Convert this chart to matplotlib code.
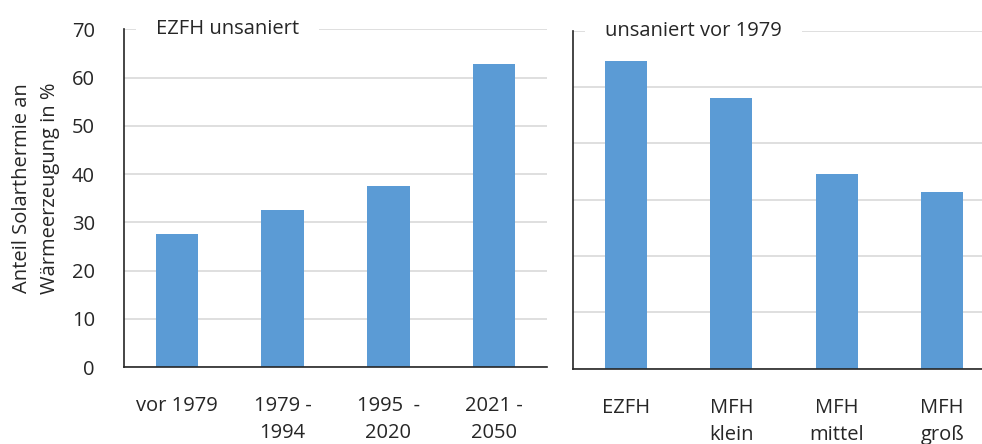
import matplotlib
matplotlib.use("Agg")
import matplotlib.pyplot as plt

plt.rcParams['font.family'] = ['Open Sans', 'DejaVu Sans']

left_title = "EZFH unsaniert"
left_cats = ["vor 1979", "1979 -\n1994", "1995  -\n2020", "2021 -\n2050"]
left_vals = [27.6, 32.6, 37.5, 62.8]

right_title = "unsaniert vor 1979"
right_cats = ["EZFH", "MFH\nklein", "MFH\nmittel", "MFH\ngroß"]
right_vals = [55.2, 48.0, 34.5, 31.3]

ylabel = "Anteil Solarthermie an\nWärmeerzeugung in %"

W, H = 982, 444
BAR = "#5B9BD5"
GRID = "#D9D9D9"
TXT = "#262626"
FS = 14.5

fig = plt.figure(figsize=(W / 100, H / 100), dpi=100)


def px_axes(x0, y_top, x1, y_bot):
    return fig.add_axes([x0 / W, (H - y_bot) / H, (x1 - x0) / W, (y_bot - y_top) / H])


def style(ax, ymax, show_labels):
    ax.set_ylim(0, ymax)
    ax.set_xlim(-0.5, 3.5)
    ax.set_yticks(range(0, ymax + 1, 10))
    ax.yaxis.grid(True, color=GRID, linewidth=1.2, zorder=0)
    ax.set_axisbelow(True)
    for s in ["top", "right"]:
        ax.spines[s].set_visible(False)
    for s in ["left", "bottom"]:
        ax.spines[s].set_color(TXT)
        ax.spines[s].set_linewidth(1.2)
        ax.spines[s].set_zorder(5)
    ax.tick_params(axis="both", length=0, colors=TXT, labelsize=FS)
    ax.tick_params(axis="y", pad=21)
    ax.tick_params(axis="x", pad=21)
    if not show_labels:
        ax.set_yticklabels([])
    for lab in ax.get_xticklabels():
        lab.set_linespacing(1.45)


axL = px_axes(124, 29.5, 547, 367)
xs = range(len(left_cats))
axL.bar(xs, left_vals, width=0.4, color=BAR, zorder=3)
axL.set_xticks(list(xs))
axL.set_xticklabels(left_cats)
style(axL, 70, True)
axL.text(-0.5 + 0.3, 70, left_title, fontsize=FS, color=TXT, va="center", ha="left",
         zorder=4, bbox=dict(boxstyle="square,pad=1.0", fc="white", ec="none"))

axR = px_axes(573, 30.7, 995, 368.7)
xs = range(len(right_cats))
axR.bar(xs, right_vals, width=0.4, color=BAR, zorder=3)
axR.set_xticks(list(xs))
axR.set_xticklabels(right_cats)
style(axR, 60, False)
axR.text(-0.5 + 0.3, 60, right_title, fontsize=FS, color=TXT, va="center", ha="left",
         zorder=4, bbox=dict(boxstyle="square,pad=1.0", fc="white", ec="none"))

fig.text(36 / W, 1 - 188 / H, ylabel, rotation=90, ha="center", va="center",
         fontsize=FS, color=TXT, linespacing=1.5, multialignment="center")

fig.savefig("out.png", dpi=100)
